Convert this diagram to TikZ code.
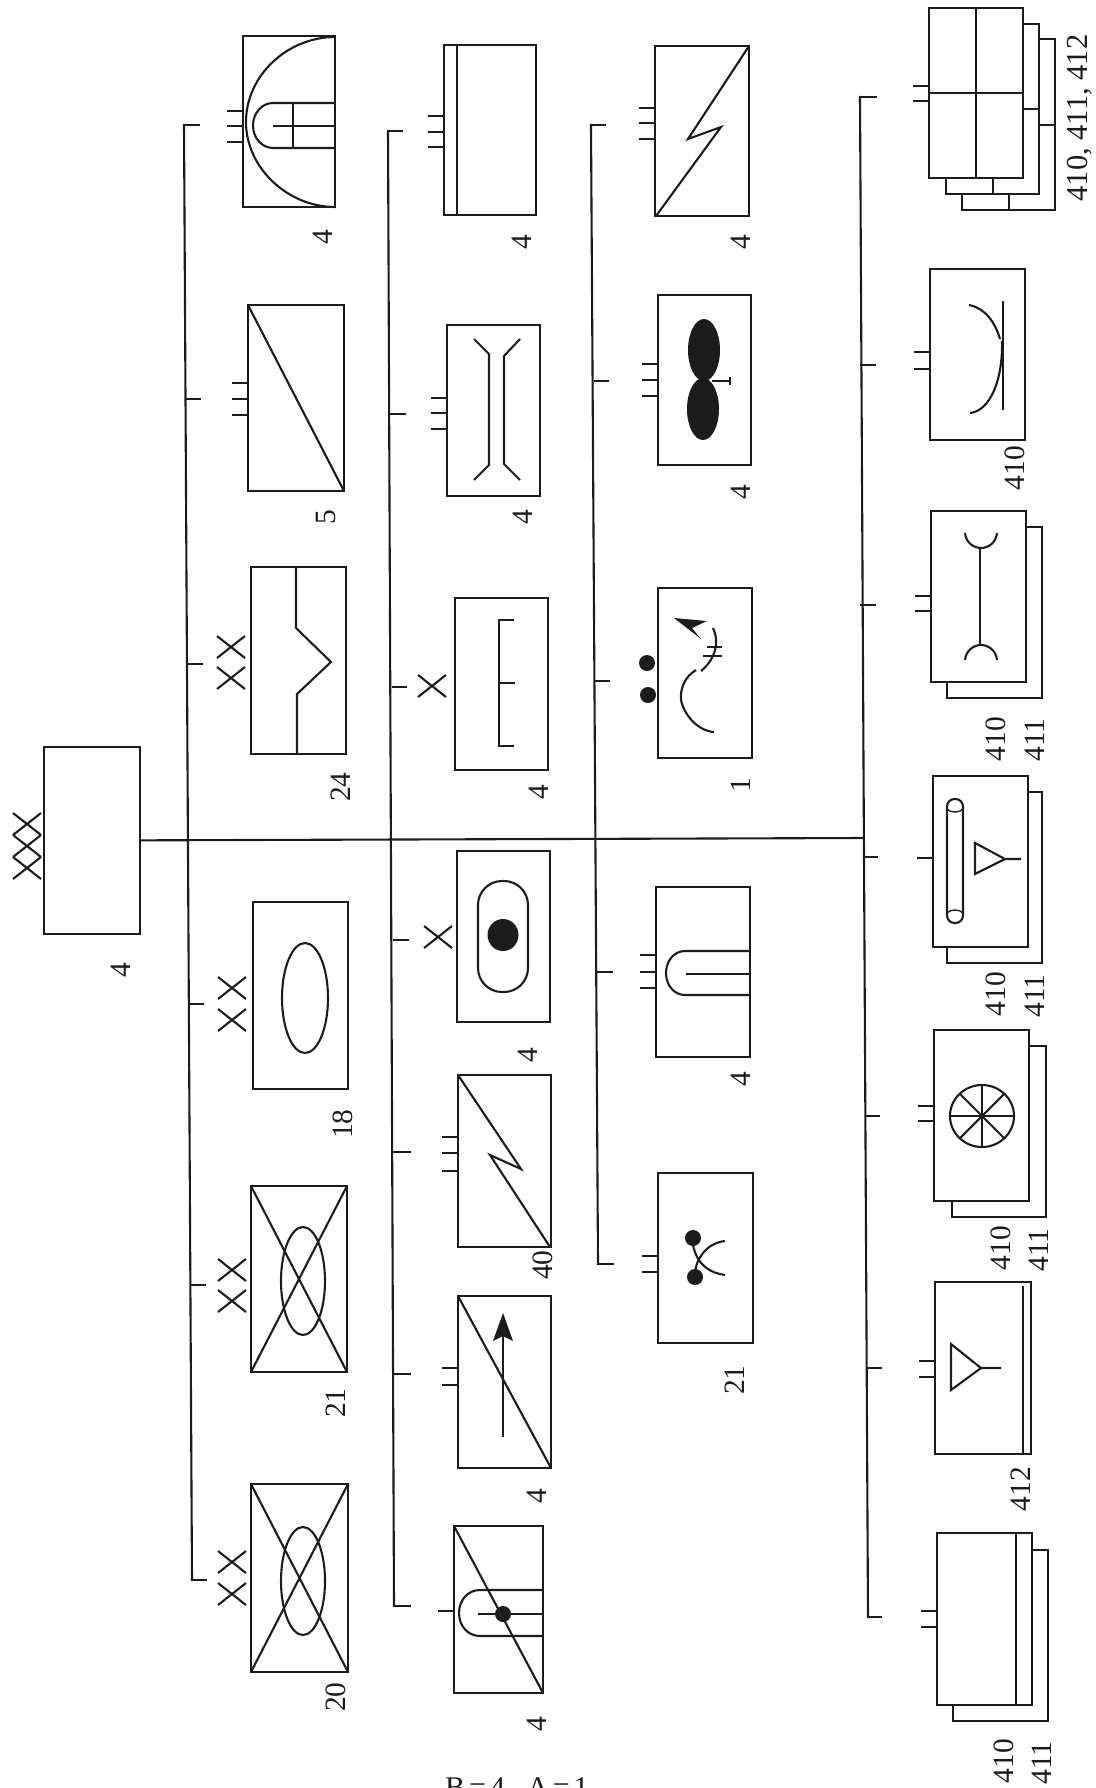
\documentclass[tikz,border=0pt]{standalone}
\usepackage{fontspec}
\setmainfont{Liberation Serif}
\usepackage{xcolor}
\usepackage{tikz}
\definecolor{ink}{HTML}{1C1C1C}
\tikzset{
  wire/.style={draw=ink,line width=2.1pt},
  unit/.style={draw=ink,line width=2.2pt,inner sep=0pt,outer sep=0pt},
  numlabel/.style={rotate=90,text=ink,inner sep=0pt,font=\fontsize{29.5}{29}\selectfont},
}

\begin{document}
\begin{tikzpicture}[x=1pt,y=-1pt]
  \useasboundingbox (0,0) rectangle (1095,1788);
  \foreach \nm/\xa/\ya/\xb/\yb in {root/44/747/140/934,
    a1/243/36/335/207,a2/248/305/344/491,a3/251/567/346/754,a4/253/902/348/1089,a5/251/1186/347/1372,a6/251/1484/348/1672,
    b1/444/45/536/215,b2/447/325/540/496,b3/455/598/548/770,b4/457/851/550/1022,b5/458/1075/551/1247,b6/458/1296/551/1468,b7/454/1526/543/1693,
    c1/655/46/749/216,c2/658/295/751/465,c3/658/588/752/758,c4/656/887/750/1057,c5/658/1173/753/1343,
    d1/929/8/1023/178,d2/930/269/1025/440,d3/931/511/1026/682,d4/933/776/1028/947,d5/934/1030/1029/1201,d6/935/1282/1031/1454,d7/937/1533/1032/1705}{
    \node[unit,minimum width={\xb-\xa},minimum height={\yb-\ya}] (\nm) at ({(\xa+\xb)/2},{(\ya+\yb)/2}) {};
  }
  % buses and the stubs that leave them
  \foreach \nm/\xa/\y/\xb in {sa1/184/125/200,sa2/186/399/201,sa3/187/664/203,sa4/189/1004/204,sa5/191/1285/206,sa6/192/1580/207,
    sb1/388/131/403,sb2/390/414/406,sb3/392/687/407,sb4/393/940/409,sb5/393/1152/411,sb6/394/1374/411,sb7/394/1606/411,
    sc1/591/125/606,sc2/594/381/609,sc3/595/681/610,sc4/597/972/613,sc5/598/1264/614,
    sd1/860/97/877,sd2/860/365/876,sd3/860/605/876,sd4/864/857/878,sd5/865/1116/880,sd6/867/1368/882,sd7/868/1617/882}{
    \coordinate (\nm) at (\xa,\y);
    \coordinate (\nm e) at (\xb,\y);
    \draw[wire] (\nm) -- (\nm e);
  }
  \coordinate (trunkend) at (863,838);
  \draw[wire] (root) -- (trunkend);
  \draw[wire,line cap=rect] (sa1) -- (sa6);
  \draw[wire,line cap=rect] (sb1) -- (sb7);
  \draw[wire,line cap=rect] (sc1) -- (sc5);
  \draw[wire,line cap=rect] (sd1) -- (sd7);
  % ticks on the left of the units
  \foreach \nm/\y in {a1/111,a1/126,a1/142,a2/383,a2/399,a2/415,
    b1/116,b1/132,b1/147,b2/398,b2/413,b2/429,b5/1137,b5/1153,b5/1171,b6/1368,b6/1385,b7/1611,
    c1/108,c1/123,c1/139,c2/364,c2/380,c2/396,c4/955,c4/972,c4/988,c5/1256,c5/1272,
    d1/86,d1/101,d2/352,d2/369,d3/596,d3/611,d4/858,d5/1106,d5/1121,d6/1361,d6/1377,d7/1611,d7/1627}{
    \draw[wire] (\nm.west |- 0,\y) -- ++(-16,0);
  }
  \foreach \cx/\cy in {27/824,27/846,27/868,231/647,231/678,232/988,232/1020,232/1270,232/1301,232/1562,232/1594,432/686,438/937}{
    \draw[wire,shift={(\cx,\cy)}] (-14,-11) -- (14,11) (-14,11) -- (14,-11);
  }
  % sheets behind
  \foreach \nm/\ya/\xb/\yb/\xc in {d1/24/1039/194/946,d3/527/1042/698/947,d4/792/1042/963/947,d5/1046/1046/1217/952,d7/1550/1048/1721/953}{
    \draw[wire] (\nm.east |- 0,\ya) -| (\xb,\yb) -| (\nm.south -| \xc,0);
  }
  \draw[wire] (1039,39) -| (1055,210) -| (962,194);
  \draw[wire] (1023,109) -- (1039,109) (993,178) -- (993,194);
  \draw[wire] (1039,125) -- (1055,125) (1009,194) -- (1009,210);
  % column a
  \draw[wire] (335,37) .. controls (288,37) and (246,75) .. (246,122) .. controls (246,168) and (288,207) .. (335,207);
  \draw[wire] (334,103) -- (273,103) .. controls (262,103) and (253,113) .. (253,125.5) .. controls (253,138) and (262,148) .. (273,148) -- (334,148);
  \draw[wire] (273,126) -- (334,126) (293,103) -- (293,148);
  \draw[wire] (248,305) -- (344,491);
  \draw[wire] (296,567) -- (296,628) -- (331,662) -- (297,694) -- (297,754);
  \draw[wire] (305,998) ellipse [x radius=23,y radius=55];
  \draw[wire] (251,1186) -- (347,1372) (347,1186) -- (251,1372);
  \draw[wire] (303,1281) ellipse [x radius=22,y radius=54];
  \draw[wire] (251,1484) -- (348,1672) (348,1484) -- (251,1672);
  \draw[wire] (303,1581) ellipse [x radius=22,y radius=54];
  % column b
  \draw[wire] (457,45) -- (457,215);
  \draw[wire] (474,339) -- (489,354) -- (489,465) -- (474,480);
  \draw[wire] (520,339) -- (504,356) -- (504,464) -- (520,480);
  \draw[wire] (514,620) -- (499,620) -- (499,746) -- (514,746) (499,683) -- (515,683);
  \draw[wire,rounded corners=24pt] (478,881) rectangle (528,992);
  \fill[ink] (503,935) ellipse [x radius=15.5,y radius=16];
  \draw[wire] (458,1075) -- (521,1169) -- (490,1155) -- (550,1247);
  \draw[wire] (458,1296) -- (551,1468);
  \draw[wire] (503,1437) -- (503,1335);
  \fill[ink] (503,1313) -- (513,1341) -- (503,1336) -- (493,1341) -- cycle;
  \draw[wire] (454,1526) -- (543,1693);
  \draw[wire] (542,1590) -- (480,1590) .. controls (468,1590) and (459,1600) .. (459,1613) .. controls (459,1626) and (468,1636) .. (480,1636) -- (542,1636);
  \draw[wire] (478,1614) -- (542,1614);
  \fill[ink] (503,1614) circle (8);
  % column c
  \draw[wire] (749,46) -- (688,139) -- (721,127) -- (656,216);
  \fill[ink] (704,350) ellipse [x radius=16,y radius=31];
  \fill[ink] (703,409) ellipse [x radius=16,y radius=31];
  \draw[wire] (712,381) -- (730,381) (730,377) -- (730,385);
  \fill[ink] (647,663) circle (8) (648,695) circle (8);
  \fill[ink] (674,618) -- (707,621) -- (692,628) -- (701,639) -- cycle;
  \draw[wire] (713,628) .. controls (719,640) and (717,658) .. (701,671);
  \draw[wire] (696,670) .. controls (684,677) and (680,690) .. (681,700) .. controls (684,715) and (698,731) .. (714,732);
  \draw[wire] (707,647) -- (722,647) (703,656) -- (722,656);
  \draw[wire] (750,951) -- (685,951) .. controls (674,951) and (666,961) .. (666,973) .. controls (666,985) and (674,995) .. (685,995) -- (750,995);
  \draw[wire] (686,974) -- (750,974);
  \fill[ink] (693,1238) circle (8) (695,1277) circle (8);
  \draw[wire] (693,1245) .. controls (697,1265) and (710,1273) .. (725,1275);
  \draw[wire] (725,1241) .. controls (706,1243) and (695,1260) .. (695,1275);
  % column d
  \draw[wire] (976,8) -- (976,178) (929,93) -- (1023,93);
  \draw[wire] (1003,301) -- (1003,410);
  \draw[wire] (969,305) .. controls (985,308) and (995,322) .. (1000,339);
  \draw[wire] (1002,341) .. controls (1003,380) and (990,411) .. (970,413);
  \draw[wire] (965,533) .. controls (966,543) and (974,548) .. (981,548) .. controls (988,548) and (996,543) .. (997,533);
  \draw[wire] (980,548) -- (980,645);
  \draw[wire] (965,660) .. controls (966,650) and (974,645) .. (981,645) .. controls (988,645) and (996,650) .. (997,660);
  \draw[wire,rounded corners=7.5pt] (947,799) rectangle (963,923);
  \draw[wire,line width=1.4pt] (947,809) .. controls (950,813) and (960,813) .. (963,809) (947,913) .. controls (950,909) and (960,909) .. (963,913);
  \draw[wire] (975,843) -- (1005,859) -- (975,874) -- cycle (1005,859) -- (1021,859);
  \draw[wire] (982,1116) ellipse [x radius=32,y radius=31];
  \foreach \a in {0,45,...,315}{\draw[wire] (982,1116) -- +(\a:31.5);}
  \draw[wire] (1023,1286) -- (1023,1453);
  \draw[wire] (951,1344) -- (981,1368) -- (951,1390) -- cycle (981,1368) -- (1001,1368);
  \draw[wire] (1016,1533) -- (1016,1705);
  % numbers
  \foreach \cx/\cy/\t [count=\i] in {121/970/4,
    323/237/4,326/517/5,341/787/24,343/1124/18,336/1403/21,336/1697/20,
    522/242/4,523/517/4,539/792/4,528/1055/4,543/1265/40,537/1496/4,537/1724/4,
    741/242/4,741/492/4,741/785/1,741/1079/4,735/1380/21,
    1015/468/410,996/739/410,1035/740/411,996/994/410,1035/996/411,1001/1248/410,1039/1250/411,1021/1489/412,1004/1761/410,1042/1763/411}{
    \node[numlabel] (num\i) at (\cx,\cy) {\t};
  }
  \node[numlabel,font=\fontsize{30.5}{30}\selectfont] (numstack) at (1080,118) {410, 411, 412};
  \node[anchor=base west,inner sep=0pt,text=ink,font=\fontsize{30}{30}\selectfont] (caption) at (445,1797) {B\hspace{4pt}=\hspace{4pt}4\hspace{22pt}A\hspace{4pt}=\hspace{4pt}1};
\end{tikzpicture}
\end{document}
